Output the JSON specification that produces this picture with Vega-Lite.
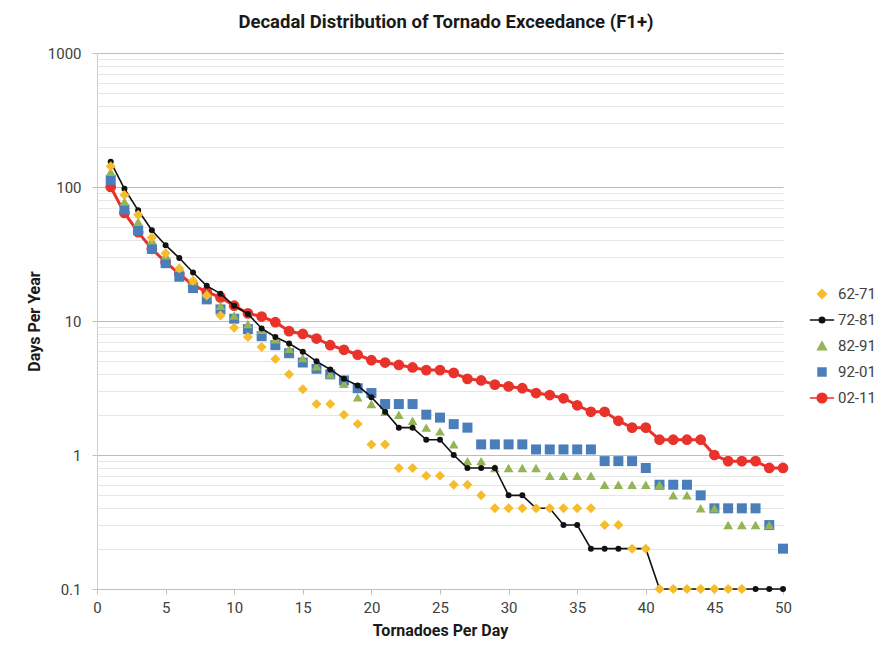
{
  "$schema": "https://vega.github.io/schema/vega-lite/v6.json",
  "width": 686,
  "height": 536,
  "autosize": {"type": "none"},
  "padding": {"left": 97, "top": 53, "right": 105, "bottom": 57},
  "background": "white",
  "title": {"text": "Decadal Distribution of Tornado Exceedance (F1+)", "fontSize": 18.5, "font": "Roboto", "fontWeight": "bold", "color": "#1a1a1a", "offset": 15, "dx": 6},
  "config": {
    "view": {"stroke": null},
    "font": "Roboto",
    "legend": {"orient": "none", "legendX": 713, "legendY": 229, "padding": 0, "symbolSize": 484, "rowPadding": 6, "labelOffset": 4, "labelFontSize": 15, "labelColor": "#404040", "labelFont": "Roboto"}
  },
  "data": {"values": [
    {"x":1,"v":143,"p":"62-71"},{"x":2,"v":87,"p":"62-71"},{"x":3,"v":62,"p":"62-71"},{"x":4,"v":42,"p":"62-71"},{"x":5,"v":32,"p":"62-71"},{"x":6,"v":24.6,"p":"62-71"},{"x":7,"v":20,"p":"62-71"},{"x":8,"v":15.5,"p":"62-71"},{"x":9,"v":11,"p":"62-71"},{"x":10,"v":8.9,"p":"62-71"},{"x":11,"v":7.6,"p":"62-71"},{"x":12,"v":6.4,"p":"62-71"},{"x":13,"v":5.2,"p":"62-71"},{"x":14,"v":4.0,"p":"62-71"},{"x":15,"v":3.1,"p":"62-71"},{"x":16,"v":2.4,"p":"62-71"},{"x":17,"v":2.4,"p":"62-71"},{"x":18,"v":2.0,"p":"62-71"},{"x":19,"v":1.7,"p":"62-71"},{"x":20,"v":1.2,"p":"62-71"},{"x":21,"v":1.2,"p":"62-71"},{"x":22,"v":0.8,"p":"62-71"},{"x":23,"v":0.8,"p":"62-71"},{"x":24,"v":0.7,"p":"62-71"},{"x":25,"v":0.7,"p":"62-71"},{"x":26,"v":0.6,"p":"62-71"},{"x":27,"v":0.6,"p":"62-71"},{"x":28,"v":0.5,"p":"62-71"},{"x":29,"v":0.4,"p":"62-71"},{"x":30,"v":0.4,"p":"62-71"},{"x":31,"v":0.4,"p":"62-71"},{"x":32,"v":0.4,"p":"62-71"},{"x":33,"v":0.4,"p":"62-71"},{"x":34,"v":0.4,"p":"62-71"},{"x":35,"v":0.4,"p":"62-71"},{"x":36,"v":0.4,"p":"62-71"},{"x":37,"v":0.3,"p":"62-71"},{"x":38,"v":0.3,"p":"62-71"},{"x":39,"v":0.2,"p":"62-71"},{"x":40,"v":0.2,"p":"62-71"},{"x":41,"v":0.1,"p":"62-71"},{"x":42,"v":0.1,"p":"62-71"},{"x":43,"v":0.1,"p":"62-71"},{"x":44,"v":0.1,"p":"62-71"},{"x":45,"v":0.1,"p":"62-71"},{"x":46,"v":0.1,"p":"62-71"},{"x":47,"v":0.1,"p":"62-71"},
    {"x":1,"v":154,"p":"72-81"},{"x":2,"v":97,"p":"72-81"},{"x":3,"v":67,"p":"72-81"},{"x":4,"v":47.5,"p":"72-81"},{"x":5,"v":36.8,"p":"72-81"},{"x":6,"v":29.5,"p":"72-81"},{"x":7,"v":23,"p":"72-81"},{"x":8,"v":18.3,"p":"72-81"},{"x":9,"v":16,"p":"72-81"},{"x":10,"v":13,"p":"72-81"},{"x":11,"v":11.3,"p":"72-81"},{"x":12,"v":8.8,"p":"72-81"},{"x":13,"v":7.6,"p":"72-81"},{"x":14,"v":6.8,"p":"72-81"},{"x":15,"v":5.9,"p":"72-81"},{"x":16,"v":5.0,"p":"72-81"},{"x":17,"v":4.35,"p":"72-81"},{"x":18,"v":3.7,"p":"72-81"},{"x":19,"v":3.3,"p":"72-81"},{"x":20,"v":2.7,"p":"72-81"},{"x":21,"v":2.1,"p":"72-81"},{"x":22,"v":1.6,"p":"72-81"},{"x":23,"v":1.6,"p":"72-81"},{"x":24,"v":1.3,"p":"72-81"},{"x":25,"v":1.3,"p":"72-81"},{"x":26,"v":1.0,"p":"72-81"},{"x":27,"v":0.8,"p":"72-81"},{"x":28,"v":0.8,"p":"72-81"},{"x":29,"v":0.8,"p":"72-81"},{"x":30,"v":0.5,"p":"72-81"},{"x":31,"v":0.5,"p":"72-81"},{"x":32,"v":0.4,"p":"72-81"},{"x":33,"v":0.4,"p":"72-81"},{"x":34,"v":0.3,"p":"72-81"},{"x":35,"v":0.3,"p":"72-81"},{"x":36,"v":0.2,"p":"72-81"},{"x":37,"v":0.2,"p":"72-81"},{"x":38,"v":0.2,"p":"72-81"},{"x":39,"v":0.2,"p":"72-81"},{"x":40,"v":0.2,"p":"72-81"},{"x":41,"v":0.1,"p":"72-81"},{"x":42,"v":0.1,"p":"72-81"},{"x":43,"v":0.1,"p":"72-81"},{"x":44,"v":0.1,"p":"72-81"},{"x":45,"v":0.1,"p":"72-81"},{"x":46,"v":0.1,"p":"72-81"},{"x":47,"v":0.1,"p":"72-81"},{"x":48,"v":0.1,"p":"72-81"},{"x":49,"v":0.1,"p":"72-81"},{"x":50,"v":0.1,"p":"72-81"},
    {"x":1,"v":130,"p":"82-91"},{"x":2,"v":78,"p":"82-91"},{"x":3,"v":55,"p":"82-91"},{"x":4,"v":40,"p":"82-91"},{"x":5,"v":31,"p":"82-91"},{"x":6,"v":25,"p":"82-91"},{"x":7,"v":20,"p":"82-91"},{"x":8,"v":16,"p":"82-91"},{"x":9,"v":13,"p":"82-91"},{"x":10,"v":11,"p":"82-91"},{"x":11,"v":9.5,"p":"82-91"},{"x":12,"v":8.6,"p":"82-91"},{"x":13,"v":7.3,"p":"82-91"},{"x":14,"v":6.2,"p":"82-91"},{"x":15,"v":5.3,"p":"82-91"},{"x":16,"v":4.6,"p":"82-91"},{"x":17,"v":4.0,"p":"82-91"},{"x":18,"v":3.4,"p":"82-91"},{"x":19,"v":2.7,"p":"82-91"},{"x":20,"v":2.4,"p":"82-91"},{"x":21,"v":2.1,"p":"82-91"},{"x":22,"v":2.0,"p":"82-91"},{"x":23,"v":1.8,"p":"82-91"},{"x":24,"v":1.6,"p":"82-91"},{"x":25,"v":1.5,"p":"82-91"},{"x":26,"v":1.2,"p":"82-91"},{"x":27,"v":0.9,"p":"82-91"},{"x":28,"v":0.9,"p":"82-91"},{"x":29,"v":0.8,"p":"82-91"},{"x":30,"v":0.8,"p":"82-91"},{"x":31,"v":0.8,"p":"82-91"},{"x":32,"v":0.8,"p":"82-91"},{"x":33,"v":0.7,"p":"82-91"},{"x":34,"v":0.7,"p":"82-91"},{"x":35,"v":0.7,"p":"82-91"},{"x":36,"v":0.7,"p":"82-91"},{"x":37,"v":0.6,"p":"82-91"},{"x":38,"v":0.6,"p":"82-91"},{"x":39,"v":0.6,"p":"82-91"},{"x":40,"v":0.6,"p":"82-91"},{"x":41,"v":0.6,"p":"82-91"},{"x":42,"v":0.5,"p":"82-91"},{"x":43,"v":0.5,"p":"82-91"},{"x":44,"v":0.4,"p":"82-91"},{"x":45,"v":0.4,"p":"82-91"},{"x":46,"v":0.3,"p":"82-91"},{"x":47,"v":0.3,"p":"82-91"},{"x":48,"v":0.3,"p":"82-91"},{"x":49,"v":0.3,"p":"82-91"},
    {"x":1,"v":113,"p":"92-01"},{"x":2,"v":68,"p":"92-01"},{"x":3,"v":47.5,"p":"92-01"},{"x":4,"v":34.5,"p":"92-01"},{"x":5,"v":27,"p":"92-01"},{"x":6,"v":21.4,"p":"92-01"},{"x":7,"v":17.6,"p":"92-01"},{"x":8,"v":14.5,"p":"92-01"},{"x":9,"v":12.2,"p":"92-01"},{"x":10,"v":10.4,"p":"92-01"},{"x":11,"v":8.7,"p":"92-01"},{"x":12,"v":7.7,"p":"92-01"},{"x":13,"v":6.6,"p":"92-01"},{"x":14,"v":5.75,"p":"92-01"},{"x":15,"v":4.9,"p":"92-01"},{"x":16,"v":4.4,"p":"92-01"},{"x":17,"v":4.0,"p":"92-01"},{"x":18,"v":3.6,"p":"92-01"},{"x":19,"v":3.15,"p":"92-01"},{"x":20,"v":2.9,"p":"92-01"},{"x":21,"v":2.4,"p":"92-01"},{"x":22,"v":2.4,"p":"92-01"},{"x":23,"v":2.4,"p":"92-01"},{"x":24,"v":2.0,"p":"92-01"},{"x":25,"v":1.9,"p":"92-01"},{"x":26,"v":1.7,"p":"92-01"},{"x":27,"v":1.6,"p":"92-01"},{"x":28,"v":1.2,"p":"92-01"},{"x":29,"v":1.2,"p":"92-01"},{"x":30,"v":1.2,"p":"92-01"},{"x":31,"v":1.2,"p":"92-01"},{"x":32,"v":1.1,"p":"92-01"},{"x":33,"v":1.1,"p":"92-01"},{"x":34,"v":1.1,"p":"92-01"},{"x":35,"v":1.1,"p":"92-01"},{"x":36,"v":1.1,"p":"92-01"},{"x":37,"v":0.9,"p":"92-01"},{"x":38,"v":0.9,"p":"92-01"},{"x":39,"v":0.9,"p":"92-01"},{"x":40,"v":0.8,"p":"92-01"},{"x":41,"v":0.6,"p":"92-01"},{"x":42,"v":0.6,"p":"92-01"},{"x":43,"v":0.6,"p":"92-01"},{"x":44,"v":0.5,"p":"92-01"},{"x":45,"v":0.4,"p":"92-01"},{"x":46,"v":0.4,"p":"92-01"},{"x":47,"v":0.4,"p":"92-01"},{"x":48,"v":0.4,"p":"92-01"},{"x":49,"v":0.3,"p":"92-01"},{"x":50,"v":0.2,"p":"92-01"},
    {"x":1,"v":100,"p":"02-11"},{"x":2,"v":64,"p":"02-11"},{"x":3,"v":46,"p":"02-11"},{"x":4,"v":34.5,"p":"02-11"},{"x":5,"v":27.5,"p":"02-11"},{"x":6,"v":22.5,"p":"02-11"},{"x":7,"v":18.5,"p":"02-11"},{"x":8,"v":16.5,"p":"02-11"},{"x":9,"v":15,"p":"02-11"},{"x":10,"v":13,"p":"02-11"},{"x":11,"v":11.4,"p":"02-11"},{"x":12,"v":10.8,"p":"02-11"},{"x":13,"v":9.8,"p":"02-11"},{"x":14,"v":8.4,"p":"02-11"},{"x":15,"v":8.0,"p":"02-11"},{"x":16,"v":7.4,"p":"02-11"},{"x":17,"v":6.6,"p":"02-11"},{"x":18,"v":6.1,"p":"02-11"},{"x":19,"v":5.6,"p":"02-11"},{"x":20,"v":5.1,"p":"02-11"},{"x":21,"v":4.9,"p":"02-11"},{"x":22,"v":4.7,"p":"02-11"},{"x":23,"v":4.5,"p":"02-11"},{"x":24,"v":4.3,"p":"02-11"},{"x":25,"v":4.3,"p":"02-11"},{"x":26,"v":4.1,"p":"02-11"},{"x":27,"v":3.7,"p":"02-11"},{"x":28,"v":3.6,"p":"02-11"},{"x":29,"v":3.35,"p":"02-11"},{"x":30,"v":3.25,"p":"02-11"},{"x":31,"v":3.15,"p":"02-11"},{"x":32,"v":2.9,"p":"02-11"},{"x":33,"v":2.8,"p":"02-11"},{"x":34,"v":2.65,"p":"02-11"},{"x":35,"v":2.35,"p":"02-11"},{"x":36,"v":2.1,"p":"02-11"},{"x":37,"v":2.1,"p":"02-11"},{"x":38,"v":1.8,"p":"02-11"},{"x":39,"v":1.6,"p":"02-11"},{"x":40,"v":1.6,"p":"02-11"},{"x":41,"v":1.3,"p":"02-11"},{"x":42,"v":1.3,"p":"02-11"},{"x":43,"v":1.3,"p":"02-11"},{"x":44,"v":1.3,"p":"02-11"},{"x":45,"v":1.0,"p":"02-11"},{"x":46,"v":0.9,"p":"02-11"},{"x":47,"v":0.9,"p":"02-11"},{"x":48,"v":0.9,"p":"02-11"},{"x":49,"v":0.8,"p":"02-11"},{"x":50,"v":0.8,"p":"02-11"}
  ]},
  "encoding": {
    "x": {"field": "x", "type": "quantitative",
      "scale": {"domain": [0, 50], "nice": false},
      "axis": {"values": [0,5,10,15,20,25,30,35,40,45,50], "grid": false, "title": "Tornadoes Per Day", "titleFontSize": 16, "titleFontWeight": "bold", "titleColor": "#1a1a1a", "titlePadding": 7, "labelFontSize": 15, "labelColor": "#404040", "labelPadding": 6, "tickSize": 5, "tickColor": "#bfbfbf", "domainColor": "#bfbfbf", "labelFlush": false}},
    "y": {"field": "v", "type": "quantitative",
      "scale": {"type": "log", "domain": [0.1, 1000], "nice": false},
      "axis": {"values": [0.1,0.2,0.3,0.4,0.5,0.6,0.7,0.8,0.9,1,2,3,4,5,6,7,8,9,10,20,30,40,50,60,70,80,90,100,200,300,400,500,600,700,800,900,1000],
        "labelExpr": "(datum.value==0.1||datum.value==1||datum.value==10||datum.value==100||datum.value==1000) ? format(datum.value,'~g') : ''",
        "grid": true,
        "gridColor": {"condition": {"test": "datum.value==0.1||datum.value==1||datum.value==10||datum.value==100||datum.value==1000", "value": "#bdbdbd"}, "value": "#e6e6e6"},
        "tickColor": {"condition": {"test": "datum.value==0.1||datum.value==1||datum.value==10||datum.value==100||datum.value==1000", "value": "#bfbfbf"}, "value": "transparent"},
        "tickSize": 5, "labelPadding": 11, "domainColor": "#d0d0d0", "labelFontSize": 15, "labelColor": "#404040",
        "title": "Days Per Year", "titleFontSize": 16, "titleFontWeight": "bold", "titleColor": "#1a1a1a", "titlePadding": 5, "labelBound": false}}
  },
  "layer": [
    {"transform": [{"filter": "datum.p == '02-11'"}], "mark": {"type": "line", "color": "#E8322A", "strokeWidth": 3}},
    {"transform": [{"filter": "datum.p == '02-11'"}], "mark": {"type": "point", "shape": "circle", "filled": true, "opacity": 1, "size": 115, "color": "#E8322A"}},
    {"transform": [{"filter": "datum.p == '92-01'"}], "mark": {"type": "point", "shape": "square", "filled": true, "opacity": 1, "size": 100, "color": "#4A7EBB"}},
    {"transform": [{"filter": "datum.p == '82-91'"}], "mark": {"type": "point", "shape": "triangle-up", "filled": true, "opacity": 1, "size": 95, "color": "#93B556"}},
    {"transform": [{"filter": "datum.p == '72-81'"}], "mark": {"type": "line", "color": "#111111", "strokeWidth": 1.6}},
    {"transform": [{"filter": "datum.p == '72-81'"}], "mark": {"type": "point", "shape": "circle", "filled": true, "opacity": 1, "size": 36, "color": "#111111"}},
    {"transform": [{"filter": "datum.p == '62-71'"}], "mark": {"type": "point", "shape": "diamond", "filled": true, "opacity": 1, "size": 100, "color": "#F7BC2C"}},
    {"transform": [{"filter": "false"}], "mark": {"type": "point", "filled": true, "opacity": 1, "strokeWidth": 1.5},
      "encoding": {
        "color": {"field": "p", "type": "nominal",
          "scale": {"domain": ["62-71","72-81","82-91","92-01","02-11"], "range": ["#F7BC2C","#111111","#93B556","#4A7EBB","#E8322A"]},
          "legend": {"title": null, "encode": {"symbols": {"update": {"strokeWidth": {"signal": "datum.value === '02-11' ? 3 : (datum.value === '72-81' ? 1.5 : 0.5)"}}}}}},
        "stroke": {"field": "p", "type": "nominal",
          "scale": {"domain": ["62-71","72-81","82-91","92-01","02-11"], "range": ["#F7BC2C","#111111","#93B556","#4A7EBB","#E8322A"]},
          "legend": {"title": null, "encode": {"symbols": {"update": {"strokeWidth": {"signal": "datum.value === '02-11' ? 3 : (datum.value === '72-81' ? 1.5 : 0.5)"}}}}}},
        "shape": {"field": "p", "type": "nominal",
          "scale": {"domain": ["62-71","72-81","82-91","92-01","02-11"], "range": [
            "M0,-0.4L0.4,0L0,0.4L-0.4,0Z",
            "M-1.1,0L1.1,0M-0.25,0A0.25,0.25,0,1,0,0.25,0A0.25,0.25,0,1,0,-0.25,0Z",
            "M0,-0.38L0.4,0.34L-0.4,0.34Z",
            "M-0.36,-0.36H0.36V0.36H-0.36Z",
            "M-1.1,0L1.1,0M-0.44,0A0.44,0.44,0,1,0,0.44,0A0.44,0.44,0,1,0,-0.44,0Z"]},
          "legend": {"title": null, "encode": {"symbols": {"update": {"strokeWidth": {"signal": "datum.value === '02-11' ? 3 : (datum.value === '72-81' ? 1.5 : 0.5)"}}}}}}
      }}
  ]
}
